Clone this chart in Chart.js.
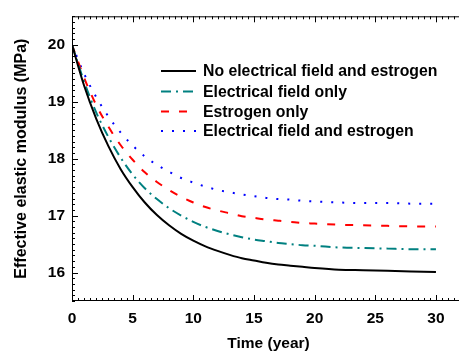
<!DOCTYPE html>
<html>
<head>
<meta charset="UTF-8">
<script src="https://cdn.jsdelivr.net/npm/chart.js"></script>
<style>
  body { margin: 0; background: #fff; }
  #wrap { width: 459px; height: 356px; }
</style>
</head>
<body>
<div id="wrap"><canvas id="c" width="459" height="356"></canvas></div>
<script>
  // values
  const years = [0,1,2,3,4,5,6,7,8,9,10,11,12,13,14,15,16,17,18,19,20,22,24,26,28,30];
  const noFieldNoEstrogen = [20,19.28,18.70,18.22,17.82,17.50,17.23,17.01,16.83,16.68,16.56,16.46,16.38,16.31,16.25,16.21,16.17,16.14,16.12,16.10,16.08,16.05,16.04,16.03,16.02,16.01];
  const fieldOnly = [20,19.35,18.81,18.38,18.02,17.72,17.48,17.29,17.13,17.00,16.89,16.80,16.73,16.67,16.62,16.58,16.55,16.52,16.50,16.48,16.47,16.44,16.43,16.42,16.41,16.41];
  const estrogenOnly = [20,19.42,18.94,18.56,18.24,17.98,17.76,17.59,17.45,17.33,17.23,17.15,17.09,17.04,16.99,16.96,16.93,16.91,16.89,16.87,16.86,16.84,16.83,16.82,16.81,16.81];
  const fieldAndEstrogen = [20,19.49,19.08,18.74,18.46,18.23,18.04,17.89,17.77,17.66,17.58,17.51,17.45,17.41,17.37,17.34,17.31,17.29,17.28,17.26,17.25,17.23,17.22,17.22,17.21,17.21];
  const seriesNames = ['No electrical field and estrogen','Electrical field only','Estrogen only','Electrical field and estrogen'];
  const xTicks = [0,5,10,15,20,25,30];
  const yTicks = [16,17,18,19,20];

  const FONT = 'Liberation Sans, Arial, sans-serif';
  const toPts = arr => arr.map((v, i) => ({ x: years[i], y: v }));

  const styles = [
    { color: '#000000', dash: [] },
    { color: '#008080', dash: [10,5,2,5] },
    { color: '#ff0000', dash: [8,10] },
    { color: '#0000ff', dash: [2,9] }
  ];
  const allSeries = [noFieldNoEstrogen, fieldOnly, estrogenOnly, fieldAndEstrogen];

  const datasets = allSeries.map((s, i) => ({
    label: seriesNames[i],
    data: toPts(s),
    showLine: true,
    borderColor: styles[i].color,
    borderDash: styles[i].dash,
    borderWidth: 2,
    pointRadius: 0,
    cubicInterpolationMode: 'monotone'
  }));

  // frame, inward ticks, titles and legend
  const decor = {
    id: 'decor',
    afterDraw(chart) {
      const { ctx, chartArea: a, scales: { x, y } } = chart;
      ctx.save();
      ctx.strokeStyle = '#000';
      ctx.lineWidth = 1;
      ctx.beginPath();
      ctx.moveTo(a.left + 0.5, a.top); ctx.lineTo(a.left + 0.5, a.bottom);
      ctx.moveTo(a.left, a.top + 0.5); ctx.lineTo(a.right, a.top + 0.5);
      ctx.moveTo(a.left, a.bottom - 0.5); ctx.lineTo(a.right, a.bottom - 0.5);
      for (let k = 0; k <= 64; k++) {
        const v = k * 0.5;
        const px = Math.round(x.getPixelForValue(v)) + 0.5;
        if (px > a.right) break;
        const len = k % 10 === 0 ? 6 : 3;
        ctx.moveTo(px, a.bottom); ctx.lineTo(px, a.bottom - len);
        ctx.moveTo(px, a.top); ctx.lineTo(px, a.top + len);
      }
      for (let k = 155; k <= 205; k++) {
        const v = k / 10;
        const py = Math.round(y.getPixelForValue(v)) + 0.5;
        const len = k % 10 === 0 ? 6 : 3;
        ctx.moveTo(a.left, py); ctx.lineTo(a.left + len, py);
      }
      ctx.stroke();

      // axis titles
      ctx.fillStyle = '#000';
      ctx.font = 'bold 15.5px ' + FONT;
      ctx.textAlign = 'center';
      ctx.textBaseline = 'middle';
      ctx.fillText('Time (year)', (a.left + a.right) / 2 + 3, 344);
      ctx.save();
      ctx.translate(22, (a.top + a.bottom) / 2);
      ctx.rotate(-Math.PI / 2);
      ctx.font = 'bold 16px ' + FONT;
      ctx.fillText('Effective elastic modulus (MPa)', 0, 0);
      ctx.restore();

      // legend
      const rows = [71, 91.5, 111.5, 131];
      ctx.textAlign = 'left';
      ctx.font = 'bold 15.8px ' + FONT;
      chart.data.datasets.forEach((ds, i) => {
        ctx.beginPath();
        ctx.setLineDash(ds.borderDash);
        ctx.strokeStyle = ds.borderColor;
        ctx.lineWidth = 2;
        ctx.moveTo(161, rows[i]);
        ctx.lineTo(196, rows[i]);
        ctx.stroke();
        ctx.setLineDash([]);
        ctx.fillText(ds.label, 203, rows[i] + 1);
      });
      ctx.restore();
    }
  };

  new Chart(document.getElementById('c'), {
    type: 'scatter',
    data: { datasets },
    options: {
      responsive: false,
      animation: false,
      layout: { padding: { top: 10, right: 0, left: 0, bottom: 0 } },
      plugins: { legend: { display: false }, tooltip: { enabled: false } },
      scales: {
        x: {
          type: 'linear',
          min: 0,
          max: 31.9,
          afterBuildTicks: s => { s.ticks = xTicks.map(v => ({ value: v })); },
          afterFit: s => { s.height = 55; },
          grid: { display: false, drawTicks: false },
          border: { display: false },
          ticks: { color: '#000', padding: 8, maxRotation: 0, font: { family: FONT, size: 15.5, weight: 'bold' } }
        },
        y: {
          min: 15.5,
          max: 20.5,
          afterBuildTicks: s => { s.ticks = yTicks.map(v => ({ value: v })); },
          afterFit: s => { s.width = 72; },
          grid: { display: false, drawTicks: false },
          border: { display: false },
          ticks: { color: '#000', padding: 7, font: { family: FONT, size: 15.5, weight: 'bold' } }
        }
      }
    },
    plugins: [decor]
  });
</script>
</body>
</html>
